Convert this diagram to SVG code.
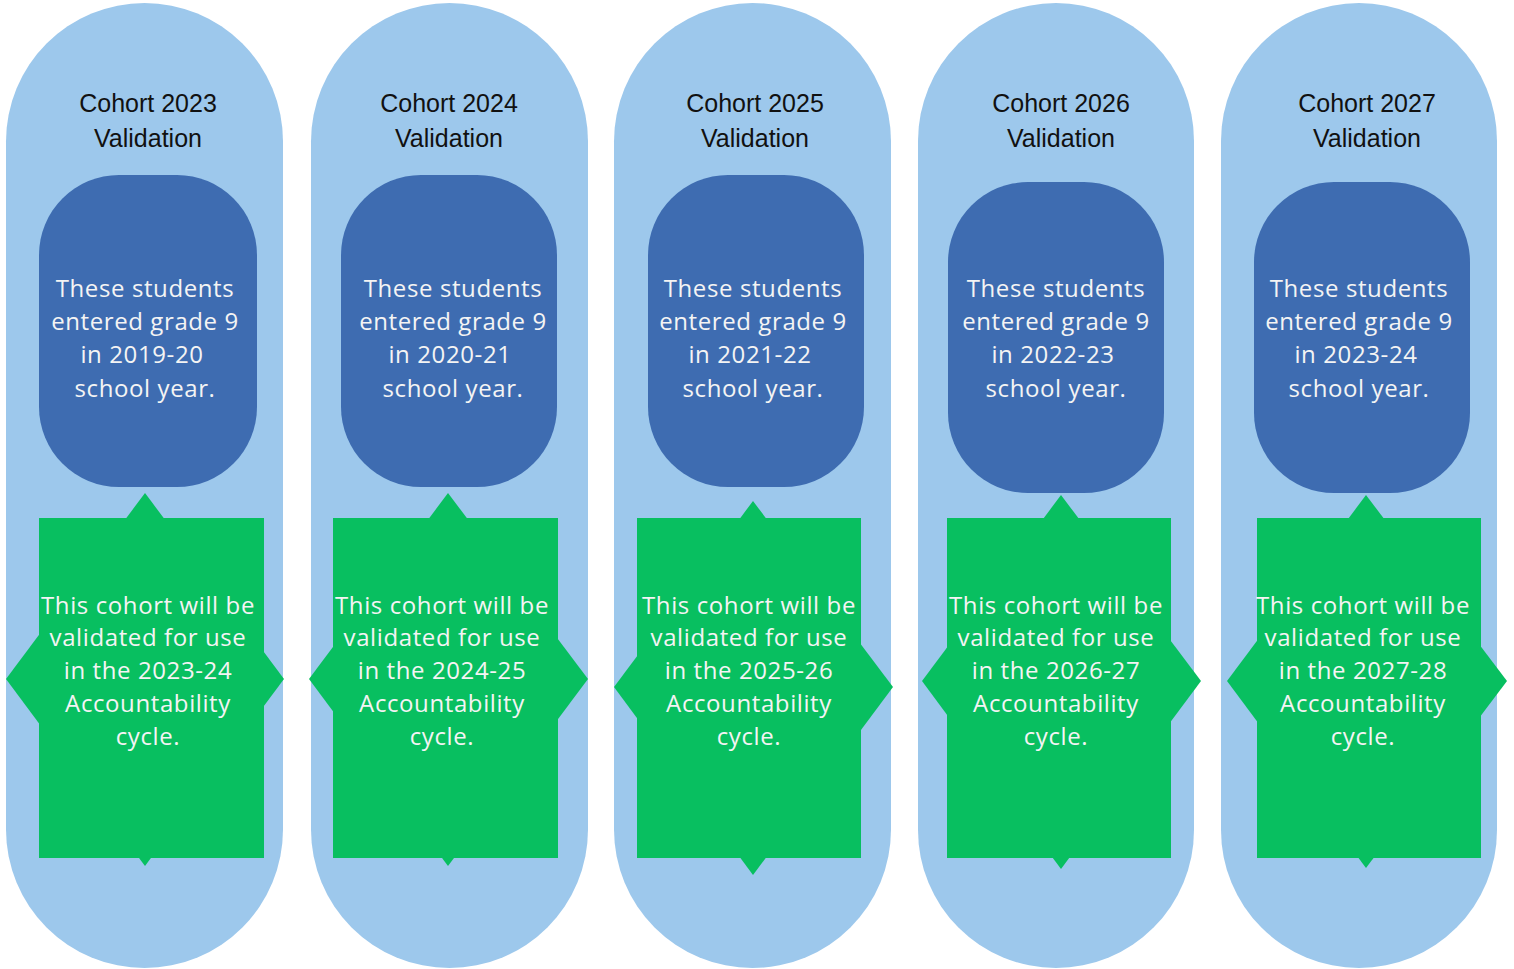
<svg xmlns="http://www.w3.org/2000/svg" width="1514" height="969" viewBox="0 0 1514 969">
<style>
.pill{fill:#9DC8EC}
.dark{fill:#3E6CB1}
.green{fill:#08BF60}
.title{font-family:"Liberation Sans",Arial,sans-serif;font-size:25px;fill:#111;text-anchor:middle}
.body{font-family:"Open Sans","DejaVu Sans",sans-serif;font-size:24px;fill:#F4F4F4;text-anchor:middle;letter-spacing:0.6px}
</style>
<rect width="1514" height="969" fill="#ffffff"/>
<g id="connectors"/>

<g id="col1">
<rect class="pill" x="6" y="3" width="277" height="965" rx="138.5" ry="138.5"/>
<text class="title" x="148" y="112">Cohort 2023</text>
<text class="title" x="148" y="147">Validation</text>
</g>
<g id="col2">
<rect class="pill" x="311" y="3" width="277" height="965" rx="138.5" ry="138.5"/>
<text class="title" x="449" y="112">Cohort 2024</text>
<text class="title" x="449" y="147">Validation</text>
</g>
<g id="col3">
<rect class="pill" x="614" y="3" width="277" height="965" rx="138.5" ry="138.5"/>
<text class="title" x="755" y="112">Cohort 2025</text>
<text class="title" x="755" y="147">Validation</text>
</g>
<g id="col4">
<rect class="pill" x="918" y="3" width="276" height="965" rx="138" ry="138"/>
<text class="title" x="1061" y="112">Cohort 2026</text>
<text class="title" x="1061" y="147">Validation</text>
</g>
<g id="col5">
<rect class="pill" x="1221" y="3" width="276" height="965" rx="138" ry="138"/>
<text class="title" x="1367" y="112">Cohort 2027</text>
<text class="title" x="1367" y="147">Validation</text>
</g>

<g id="entry1">
<rect class="dark" x="39" y="175" width="218" height="312" rx="80" ry="80"/>
<text class="body" x="145" y="297">These students</text>
<text class="body" x="145" y="330">entered grade 9</text>
<text class="body" x="142" y="363">in 2019-20</text>
<text class="body" x="145" y="397">school year.</text>
</g>
<g id="entry2">
<rect class="dark" x="341" y="175" width="216" height="312" rx="80" ry="80"/>
<text class="body" x="453" y="297">These students</text>
<text class="body" x="453" y="330">entered grade 9</text>
<text class="body" x="450" y="363">in 2020-21</text>
<text class="body" x="453" y="397">school year.</text>
</g>
<g id="entry3">
<rect class="dark" x="648" y="175" width="216" height="312" rx="80" ry="80"/>
<text class="body" x="753" y="297">These students</text>
<text class="body" x="753" y="330">entered grade 9</text>
<text class="body" x="750" y="363">in 2021-22</text>
<text class="body" x="753" y="397">school year.</text>
</g>
<g id="entry4">
<rect class="dark" x="948" y="182" width="216" height="311" rx="80" ry="80"/>
<text class="body" x="1056" y="297">These students</text>
<text class="body" x="1056" y="330">entered grade 9</text>
<text class="body" x="1053" y="363">in 2022-23</text>
<text class="body" x="1056" y="397">school year.</text>
</g>
<g id="entry5">
<rect class="dark" x="1254" y="182" width="216" height="311" rx="80" ry="80"/>
<text class="body" x="1359" y="297">These students</text>
<text class="body" x="1359" y="330">entered grade 9</text>
<text class="body" x="1356" y="363">in 2023-24</text>
<text class="body" x="1359" y="397">school year.</text>
</g>

<g id="use1">
<polygon class="green" points="145,493 284,679 145,866 6,679"/>
<rect class="green" x="39" y="518" width="225" height="340"/>
<text class="body" x="148" y="614">This cohort will be</text>
<text class="body" x="148" y="646">validated for use</text>
<text class="body" x="148" y="679">in the 2023-24</text>
<text class="body" x="148" y="712">Accountability</text>
<text class="body" x="148" y="745">cycle.</text>
</g>
<g id="use2">
<polygon class="green" points="448,493 588,679 448,866 309,679"/>
<rect class="green" x="333" y="518" width="225" height="340"/>
<text class="body" x="442" y="614">This cohort will be</text>
<text class="body" x="442" y="646">validated for use</text>
<text class="body" x="442" y="679">in the 2024-25</text>
<text class="body" x="442" y="712">Accountability</text>
<text class="body" x="442" y="745">cycle.</text>
</g>
<g id="use3">
<polygon class="green" points="753,501 893,687 753,875 614,687"/>
<rect class="green" x="637" y="518" width="224" height="340"/>
<text class="body" x="749" y="614">This cohort will be</text>
<text class="body" x="749" y="646">validated for use</text>
<text class="body" x="749" y="679">in the 2025-26</text>
<text class="body" x="749" y="712">Accountability</text>
<text class="body" x="749" y="745">cycle.</text>
</g>
<g id="use4">
<polygon class="green" points="1061,495 1201,681 1061,869 922,681"/>
<rect class="green" x="947" y="518" width="224" height="340"/>
<text class="body" x="1056" y="614">This cohort will be</text>
<text class="body" x="1056" y="646">validated for use</text>
<text class="body" x="1056" y="679">in the 2026-27</text>
<text class="body" x="1056" y="712">Accountability</text>
<text class="body" x="1056" y="745">cycle.</text>
</g>
<g id="use5">
<polygon class="green" points="1366,495 1507,681 1366,868 1227,681"/>
<rect class="green" x="1257" y="518" width="224" height="340"/>
<text class="body" x="1363" y="614">This cohort will be</text>
<text class="body" x="1363" y="646">validated for use</text>
<text class="body" x="1363" y="679">in the 2027-28</text>
<text class="body" x="1363" y="712">Accountability</text>
<text class="body" x="1363" y="745">cycle.</text>
</g>
</svg>
